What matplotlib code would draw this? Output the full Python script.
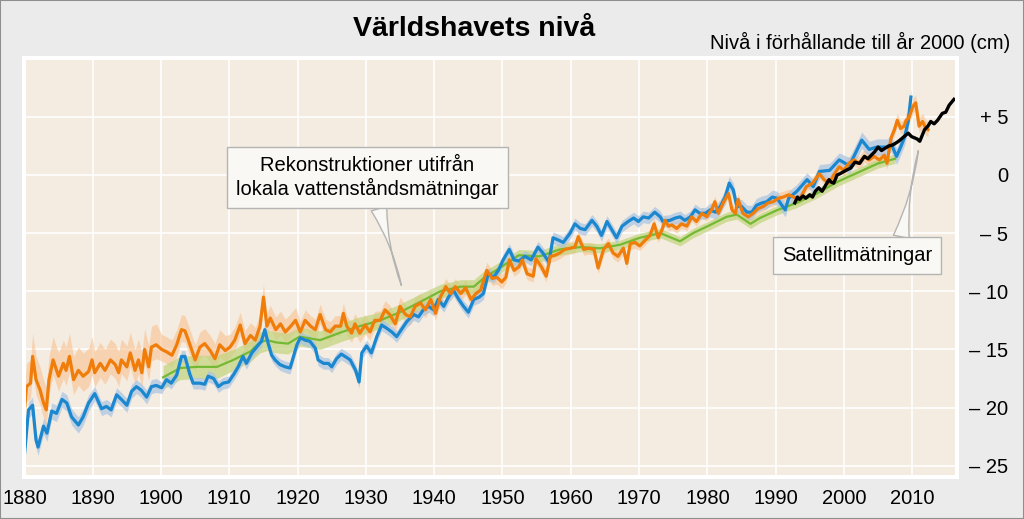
import numpy as np
import matplotlib
matplotlib.use("Agg")
import matplotlib.pyplot as plt
from matplotlib.patches import Rectangle

plt.rcParams['font.family'] = ['Liberation Sans', 'DejaVu Sans']

# --- data (cm relative to year 2000) ---
orange_years = [1880.0, 1880.3, 1880.9, 1881.2, 1881.7, 1882.3, 1882.8, 1883.2, 1883.6, 1884.2,
                1885.0, 1885.7, 1886.1, 1886.6, 1887.2, 1887.9, 1888.6, 1889.4, 1889.9, 1890.3,
                1891.1, 1891.8, 1892.6, 1893.3, 1893.8, 1894.2, 1895.0, 1895.5, 1896.2, 1896.7,
                1897.2, 1897.6, 1898.2, 1898.6, 1899.3, 1900.1, 1900.8, 1901.6, 1902.3, 1903.0,
                1903.5, 1904.0, 1905.0, 1905.7, 1906.4, 1907.2, 1907.9, 1908.6, 1909.4, 1910.1,
                1910.8, 1911.6, 1912.3, 1913.1, 1913.8, 1914.5, 1915.0, 1915.5, 1916.0, 1916.8,
                1917.5, 1918.2, 1919.0, 1919.7, 1920.4, 1921.1, 1921.9, 1922.6, 1923.3, 1924.1,
                1924.8, 1925.5, 1926.3, 1926.7, 1927.2, 1927.9, 1928.4, 1929.1, 1929.9, 1930.6,
                1931.3, 1932.1, 1932.8, 1933.5, 1934.3, 1935.0, 1935.8, 1936.5, 1937.2, 1938.0,
                1938.7, 1939.5, 1940.2, 1940.9, 1941.7, 1942.4, 1943.1, 1943.9, 1944.6, 1945.4,
                1946.1, 1946.8, 1947.7, 1948.5, 1949.2, 1949.9, 1950.5, 1951.0, 1951.7, 1952.4,
                1952.9, 1953.6, 1954.5, 1954.9, 1955.7, 1956.4, 1957.0, 1957.7, 1958.4, 1959.1,
                1959.9, 1960.6, 1961.1, 1961.9, 1962.6, 1963.4, 1964.0, 1964.8, 1965.5, 1966.2,
                1966.9, 1967.7, 1968.2, 1968.7, 1969.4, 1970.1, 1970.9, 1971.6, 1972.2, 1972.8,
                1973.3, 1973.8, 1974.3, 1974.8, 1975.5, 1976.2, 1977.0, 1977.7, 1978.4, 1979.2,
                1979.9, 1980.6, 1981.1, 1981.6, 1982.4, 1983.1, 1983.6, 1984.1, 1984.5, 1985.2,
                1986.0, 1986.7, 1987.4, 1988.2, 1988.9, 1989.6, 1990.4, 1991.1, 1991.9, 1992.6,
                1993.5, 1994.5, 1995.4, 1996.4, 1997.1, 1997.8, 1998.5, 1999.3, 2000.0, 2000.7,
                2001.5, 2002.2, 2003.0, 2003.7, 2004.4, 2005.2, 2005.9, 2006.3, 2006.9, 2007.4,
                2007.8, 2008.3, 2008.8, 2009.1, 2009.5, 2010.1, 2010.5, 2011.0, 2011.5, 2012.0,
                2012.3]
orange_vals = [-20.2, -18.2, -17.9, -15.6, -17.6, -18.5, -19.6, -20.2, -17.6, -15.9,
               -17.3, -16.2, -16.8, -15.6, -17.6, -16.8, -17.3, -16.9, -15.9, -17.0,
               -16.2, -16.8, -15.9, -16.3, -17.0, -15.9, -16.5, -15.3, -16.8, -15.9,
               -17.0, -15.0, -16.5, -14.8, -14.6, -15.0, -15.2, -15.5, -14.6, -13.3,
               -13.4, -14.2, -15.9, -14.8, -14.5, -15.1, -15.8, -14.6, -15.1, -14.8,
               -14.2, -12.9, -14.5, -13.8, -14.2, -13.0, -10.5, -13.0, -12.3, -13.3,
               -12.8, -13.5, -13.0, -12.5, -13.5, -12.5, -13.0, -13.3, -12.0, -13.3,
               -13.5, -13.0, -13.0, -11.9, -13.0, -13.6, -12.8, -13.6, -12.9, -13.5,
               -12.5, -12.5, -11.6, -12.0, -12.8, -11.3, -12.0, -12.2, -11.3, -11.0,
               -11.6, -10.7, -11.9, -10.5, -9.6, -10.2, -9.6, -10.2, -9.7, -10.7,
               -10.2, -9.9, -8.2, -8.9, -8.8, -9.2, -8.8, -7.3, -8.2, -7.9,
               -7.3, -8.5, -8.7, -7.2, -7.9, -8.7, -7.0, -6.9, -6.7, -6.4,
               -6.3, -6.2, -5.3, -6.4, -6.3, -6.4, -8.0, -6.4, -5.9, -6.7,
               -7.0, -6.3, -7.6, -5.9, -5.8, -6.1, -5.6, -5.2, -4.2, -5.4,
               -4.8, -3.9, -4.4, -4.3, -4.6, -4.2, -4.4, -3.6, -4.0, -3.3,
               -3.6, -3.0, -2.3, -3.3, -2.3, -1.6, -3.0, -3.3, -2.1, -3.3,
               -3.6, -3.3, -2.9, -2.7, -2.4, -2.3, -2.0, -1.9, -1.7, -1.9,
               -2.1, -1.0, -0.7, 0.1, -0.4, -0.7, 0.0, 0.7, 0.4, 1.0,
               1.3, 1.0, 1.6, 1.3, 1.6, 1.3, 1.7, 1.0, 3.2, 3.9,
               4.7, 4.0, 4.2, 4.7, 4.9, 5.9, 6.2, 4.2, 4.6, 4.0,
               3.9]

blue_years = [1880.0, 1880.6, 1881.2, 1881.7, 1882.0, 1882.8, 1883.3, 1884.0, 1884.7, 1885.5,
              1886.2, 1886.9, 1887.9, 1888.6, 1889.4, 1890.3, 1891.3, 1892.0, 1892.7, 1893.5,
              1894.2, 1895.0, 1895.7, 1896.4, 1897.1, 1897.9, 1898.6, 1899.3, 1900.1, 1900.8,
              1901.5, 1902.3, 1903.0, 1903.5, 1904.2, 1904.7, 1905.7, 1906.4, 1906.9, 1907.7,
              1908.4, 1909.1, 1909.9, 1910.7, 1911.3, 1912.0, 1912.5, 1913.3, 1914.0, 1914.7,
              1915.2, 1915.7, 1916.2, 1916.7, 1917.4, 1918.2, 1918.9, 1919.4, 1919.9, 1920.4,
              1921.1, 1921.8, 1922.6, 1923.0, 1923.8, 1924.5, 1925.0, 1925.7, 1926.4, 1927.2,
              1927.7, 1928.5, 1929.0, 1929.4, 1930.1, 1930.8, 1931.6, 1932.3, 1933.1, 1933.8,
              1934.5, 1935.3, 1936.0, 1937.0, 1937.7, 1938.4, 1939.2, 1939.9, 1940.6, 1941.4,
              1942.1, 1942.8, 1943.6, 1944.3, 1945.0, 1945.8, 1946.6, 1947.2, 1947.9, 1948.7,
              1949.4, 1950.1, 1951.0, 1951.7, 1952.4, 1953.3, 1954.2, 1955.2, 1955.9, 1956.8,
              1957.4, 1958.2, 1958.9, 1959.9, 1960.6, 1961.4, 1962.1, 1963.1, 1963.8, 1964.5,
              1965.3, 1966.0, 1966.7, 1967.5, 1968.4, 1969.2, 1969.9, 1970.6, 1971.4, 1972.3,
              1973.1, 1973.5, 1974.5, 1975.3, 1976.0, 1976.7, 1977.5, 1978.2, 1978.9, 1979.7,
              1980.4, 1981.2, 1981.9, 1982.6, 1983.2, 1983.8, 1984.3, 1985.0, 1985.8, 1986.5,
              1987.2, 1988.0, 1988.7, 1989.5, 1990.2, 1990.9, 1991.4, 1991.9, 1993.1, 1994.6,
              1995.5, 1996.4, 1997.9, 1999.3, 2000.8, 2002.6, 2003.7, 2004.8, 2006.3, 2006.9,
              2007.7, 2008.3, 2008.9, 2009.4, 2009.8]
blue_vals = [-24.1, -20.2, -19.8, -22.8, -23.4, -21.6, -22.2, -20.3, -20.5, -19.3,
             -19.6, -20.8, -21.5, -20.8, -19.6, -18.8, -20.1, -19.9, -20.2, -18.9,
             -19.3, -19.8, -18.6, -18.2, -18.5, -19.1, -18.2, -18.1, -18.3, -17.6,
             -17.9, -17.2, -15.6, -15.6, -17.1, -17.9, -17.9, -18.0, -17.3, -17.5,
             -18.2, -17.9, -17.8, -17.1, -16.5, -15.6, -16.2, -15.3, -14.8, -14.3,
             -13.3, -14.5, -15.5, -15.9, -16.3, -16.5, -16.6, -15.6, -14.6, -14.0,
             -14.2, -14.3, -14.9, -15.9, -16.2, -16.2, -16.5, -15.8, -15.4, -15.7,
             -15.9, -16.8, -17.8, -15.3, -14.7, -15.3, -13.9, -12.9, -13.2, -13.5,
             -13.9, -13.2, -12.6, -12.0, -12.2, -11.6, -11.3, -11.6, -10.7, -11.3,
             -10.5, -9.9, -10.7, -11.3, -11.8, -10.7, -10.5, -10.2, -8.5, -8.8,
             -8.2, -7.3, -6.4, -7.3, -7.4, -7.0, -7.3, -6.2, -6.7, -7.5,
             -5.4, -5.6, -5.8, -5.0, -4.2, -4.6, -4.7, -3.9, -4.4, -5.2,
             -4.0, -4.7, -5.4, -4.4, -4.0, -3.7, -4.0, -3.6, -3.7, -3.2,
             -3.6, -4.0, -3.9, -3.7, -3.6, -3.9, -3.6, -3.0, -3.3, -3.3,
             -3.0, -3.2, -2.7, -1.9, -0.7, -1.3, -2.7, -2.7, -3.2, -3.2,
             -2.6, -2.4, -2.3, -1.9, -2.0, -2.6, -3.0, -2.0, -1.4, -0.4,
             -1.0, 0.3, 0.4, 1.3, 0.8, 3.0, 2.2, 2.4, 2.4, 2.7,
             1.6, 2.4, 3.3, 4.6, 6.7]

green_years = [1900.3, 1902.8, 1905.2, 1908.2, 1910.6, 1913.0, 1914.5, 1915.5, 1916.9, 1918.6,
               1920.3, 1923.3, 1926.5, 1929.1, 1932.1, 1935.0, 1938.0, 1940.9, 1943.9, 1945.8,
               1947.2, 1950.1, 1952.4, 1955.4, 1958.4, 1961.4, 1964.3, 1967.2, 1970.1, 1973.1,
               1976.0, 1977.9, 1980.4, 1982.8, 1984.3, 1986.3, 1987.7, 1990.3, 1993.1, 1996.0,
               1999.0, 2002.0, 2005.0, 2007.5]
green_vals = [-17.4, -16.6, -16.5, -16.5, -15.9, -15.2, -14.4, -14.2, -14.4, -14.5,
              -13.9, -14.2, -13.5, -13.0, -12.5, -11.8, -10.9, -10.0, -9.6, -9.6,
              -8.9, -7.8, -6.9, -7.0, -6.4, -6.2, -6.3, -6.0, -5.4, -5.0,
              -5.7, -5.0, -4.3, -3.6, -3.4, -4.2, -3.7, -3.0, -2.4, -1.6,
              -0.6, 0.2, 1.0, 1.4]

sat_years = [1992.8, 1993.2, 1993.5, 1994.0, 1994.4, 1995.0, 1995.4, 1995.8, 1996.3, 1996.8,
             1997.3, 1997.8, 1998.1, 1998.5, 1999.0, 1999.4, 2000.3, 2001.0, 2001.6, 2002.3,
             2003.0, 2003.5, 2004.0, 2004.5, 2005.0, 2005.5, 2006.0, 2006.6, 2007.2, 2008.0,
             2008.6, 2009.4, 2009.9, 2010.3, 2010.7, 2011.1, 2011.8, 2012.3, 2012.7, 2013.2,
             2013.7, 2014.4, 2014.9, 2015.4, 2016.1]
sat_vals = [-2.4, -1.9, -2.1, -1.8, -2.0, -1.7, -1.9, -1.4, -1.1, -1.4,
            -0.9, -0.4, -0.6, -0.7, 0.0, 0.1, 0.4, 0.6, 1.1, 1.0,
            1.6, 1.4, 1.7, 2.0, 2.4, 2.1, 2.3, 2.5, 2.6, 2.9,
            3.2, 3.6, 3.3, 3.2, 3.1, 2.9, 3.9, 4.2, 4.6, 4.4,
            4.7, 5.3, 5.4, 6.0, 6.5]

# uncertainty per decade (1880s, 1890s, ... 2010s)
orange_up = [2.0, 1.8, 1.3, 1.1, 0.9, 0.8, 0.7, 0.6, 0.5, 0.5, 0.5, 0.5, 0.6, 0.7]
orange_dn = [1.3, 1.2, 1.0, 0.9, 0.8, 0.7, 0.6, 0.5, 0.5, 0.4, 0.4, 0.4, 0.5, 0.6]
blue_unc = [0.7, 0.6, 0.5, 0.5, 0.5, 0.5, 0.5, 0.5, 0.5, 0.5, 0.6, 0.6, 0.7, 1.2]
green_unc = [1.0, 1.0, 1.0, 0.9, 0.8, 0.7, 0.6, 0.5, 0.4, 0.4, 0.4, 0.4, 0.4, 0.4]

yticks = [-25, -20, -15, -10, -5, 0, 5]
ytick_labels = ['– 25', '– 20', '– 15', '– 10', '– 5', '0', '+ 5']
xticks = list(range(1880, 2011, 10))


def decade_lookup(years, table):
    idx = ((np.asarray(years) - 1880) // 10).astype(int)
    idx = np.clip(idx, 0, len(table) - 1)
    return np.asarray(table)[idx]


fig = plt.figure(figsize=(10.24, 5.19), dpi=100)
fig.patch.set_facecolor('#ebebeb')
fig.patches.append(Rectangle((0, 0), 1, 1, transform=fig.transFigure, fill=False,
                             ec='#8f8f8f', lw=1.5))

ax = fig.add_axes([24 / 1024, 42 / 519, 933 / 1024, 419 / 519])
ax.set_facecolor('#f4ece1')
ax.set_xlim(1879.94, 2016.55)
ax.set_ylim(-25.97, 10.06)

for s in ax.spines.values():
    s.set_color('white')
    s.set_linewidth(2.9)

ax.grid(True, color='white', lw=1.2)
ax.set_axisbelow(True)

# bands
oy = np.array(orange_years)
ov = np.array(orange_vals)
ax.fill_between(oy, ov - decade_lookup(oy, orange_dn), ov + decade_lookup(oy, orange_up),
                color='#f9c290', alpha=0.6, lw=0)
gy = np.array(green_years)
gv = np.array(green_vals)
gu = decade_lookup(gy, green_unc)
ax.fill_between(gy, gv - gu, gv + gu, color='#c2d47d', alpha=0.7, lw=0)
by = np.array(blue_years)
bv = np.array(blue_vals)
bu = decade_lookup(by, blue_unc)
ax.fill_between(by, bv - bu, bv + bu, color='#a9c3e3', alpha=0.7, lw=0)

# lines
ax.plot(gy, gv, color='#74b934', lw=1.6)
ax.plot(by, bv, color='#1b87cf', lw=2.3)
ax.plot(oy, ov, color='#f07d0a', lw=2.3)
ax.plot(sat_years, sat_vals, color='black', lw=2.4)

# axes ticks
ax.set_xticks(xticks)
ax.set_xticklabels([str(x) for x in xticks])
ax.set_yticks(yticks)
ax.set_yticklabels(ytick_labels)
ax.yaxis.tick_right()
ax.tick_params(axis='both', length=0, labelsize=14.5, colors='black')
ax.tick_params(axis='x', pad=9)
ax.tick_params(axis='y', pad=37)
for lab in ax.get_yticklabels():
    lab.set_horizontalalignment('right')

# callouts
box_kw = dict(boxstyle='square,pad=0.45', fc='#faf8f4', ec='#b4b4b4', lw=1)
ax.annotate('Rekonstruktioner utifrån\nlokala vattenståndsmätningar',
            xy=(1935.2, -9.5), xytext=(1930.2, -0.2), textcoords='data',
            ha='center', va='center', fontsize=14.5, linespacing=1.2, bbox=box_kw,
            arrowprops=dict(arrowstyle='wedge,tail_width=0.8,shrink_factor=0.05',
                            fc='#faf8f4', ec='#b4b4b4', lw=1, relpos=(0.51, 0.5),
                            shrinkA=0, shrinkB=0))
ax.annotate('Satellitmätningar',
            xy=(2010.9, 2.1), xytext=(2001.9, -6.95), textcoords='data',
            ha='center', va='center', fontsize=14.5, bbox=box_kw,
            arrowprops=dict(arrowstyle='wedge,tail_width=0.8,shrink_factor=0.05',
                            fc='#faf8f4', ec='#b4b4b4', lw=1, relpos=(0.77, 0.5),
                            shrinkA=0, shrinkB=0))

fig.text(474 / 1024, 1 - 29 / 519, 'Världshavets nivå', ha='center', va='center',
         fontsize=20.5, fontweight='bold')
fig.text(1010 / 1024, 1 - 42 / 519, 'Nivå i förhållande till år 2000 (cm)', ha='right',
         va='center', fontsize=14.5)

fig.savefig('out.png', dpi=100, facecolor=fig.get_facecolor())
